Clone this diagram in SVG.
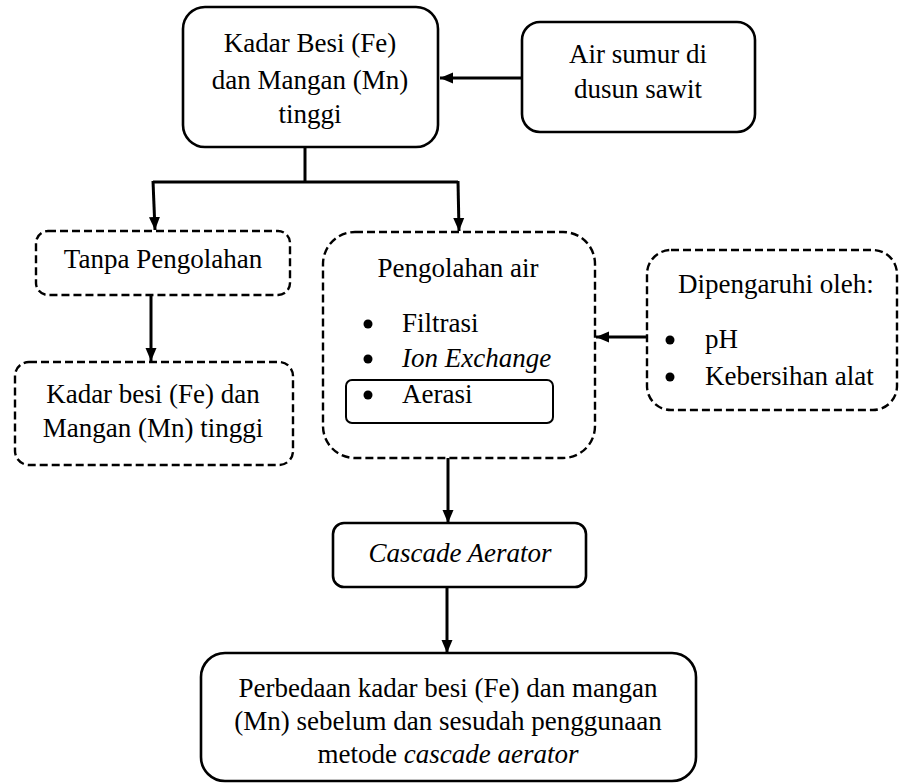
<svg xmlns="http://www.w3.org/2000/svg" width="902" height="783" viewBox="0 0 902 783">
<style>
text{font-family:"Liberation Serif",Tinos,"DejaVu Serif","Noto Serif",serif;font-size:27px;fill:#000}
.c{text-anchor:middle}
.i{font-style:italic}
.solid{fill:#fff;stroke:#000;stroke-width:2.6}
.dash{fill:#fff;stroke:#000;stroke-width:2.4;stroke-dasharray:8 4}
.ln{fill:none;stroke:#000;stroke-width:3}
</style>
<defs>
<marker id="ah" markerUnits="userSpaceOnUse" markerWidth="14" markerHeight="14" viewBox="0 0 14 14" refX="13" refY="7" orient="auto">
<path d="M0,1.5 L13,7 L0,12.5 Z" fill="#000"/>
</marker>
</defs>
<g id="connectors">
<line class="ln" x1="522" y1="78" x2="440" y2="78" marker-end="url(#ah)"/>
<polyline class="ln" points="305,147 305,182"/>
<polyline class="ln" points="153,182 458,182"/>
<line class="ln" x1="153" y1="181" x2="155" y2="230" marker-end="url(#ah)"/>
<line class="ln" x1="458" y1="181" x2="459" y2="231" marker-end="url(#ah)"/>
<line class="ln" x1="151" y1="295" x2="151" y2="361" marker-end="url(#ah)"/>
<line class="ln" x1="647" y1="337" x2="596" y2="337" marker-end="url(#ah)"/>
<line class="ln" x1="448" y1="458" x2="448" y2="523" marker-end="url(#ah)"/>
<line class="ln" x1="447" y1="587" x2="447" y2="653" marker-end="url(#ah)"/>
</g>
<g id="node-top">
<rect class="solid" x="183" y="7" width="255" height="140" rx="22"/>
<text class="c" x="310" y="52">Kadar Besi (Fe)</text>
<text class="c" x="310" y="89">dan Mangan (Mn)</text>
<text class="c" x="310" y="123">tinggi</text>
</g>
<g id="node-sumur">
<rect class="solid" x="522" y="22" width="233" height="110" rx="18"/>
<text class="c" x="638" y="63">Air sumur di</text>
<text class="c" x="638" y="98">dusun sawit</text>
</g>
<g id="node-tanpa">
<rect class="dash" x="36" y="231" width="254" height="64" rx="12"/>
<text class="c" x="163" y="268">Tanpa Pengolahan</text>
</g>
<g id="node-kadar-tinggi">
<rect class="dash" x="15" y="362" width="278" height="103" rx="14"/>
<text class="c" x="153" y="403">Kadar besi (Fe) dan</text>
<text class="c" x="153" y="437">Mangan (Mn) tinggi</text>
</g>
<g id="node-pengolahan">
<rect class="dash" x="323" y="232" width="272" height="226" rx="32"/>
<text class="c" x="458" y="277">Pengolahan air</text>
<circle cx="368" cy="324" r="4.5"/>
<text x="402" y="332">Filtrasi</text>
<circle cx="368" cy="359" r="4.5"/>
<text class="i" x="402" y="367">Ion Exchange</text>
<rect x="346" y="380" width="207" height="43" rx="6" fill="none" stroke="#000" stroke-width="2"/>
<circle cx="368" cy="395" r="4.5"/>
<text x="402" y="403">Aerasi</text>
</g>
<g id="node-dipengaruhi">
<rect class="dash" x="647" y="250" width="250" height="160" rx="24"/>
<text x="678" y="293">Dipengaruhi oleh:</text>
<circle cx="670" cy="340" r="4.5"/>
<text x="705" y="348">pH</text>
<circle cx="670" cy="377" r="4.5"/>
<text x="705" y="385">Kebersihan alat</text>
</g>
<g id="node-cascade">
<rect class="solid" x="333" y="523" width="253" height="64" rx="11"/>
<text class="c i" x="460" y="562">Cascade Aerator</text>
</g>
<g id="node-perbedaan">
<rect class="solid" x="201" y="653" width="495" height="128" rx="24"/>
<text class="c" x="448" y="697">Perbedaan kadar besi (Fe) dan mangan</text>
<text class="c" x="448" y="730">(Mn) sebelum dan sesudah penggunaan</text>
<text class="c" x="448" y="763">metode <tspan class="i">cascade aerator</tspan></text>
</g>
</svg>
